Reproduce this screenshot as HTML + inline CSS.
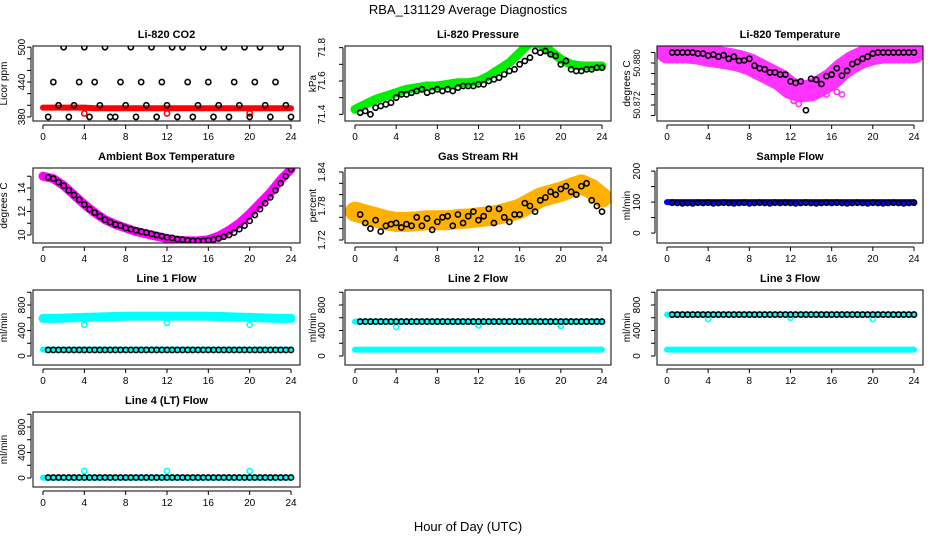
<!DOCTYPE html>
<html><head><meta charset="utf-8">
<style>
html,body{margin:0;padding:0;background:#fff;}
svg{display:block;font-family:"Liberation Sans",sans-serif;}
</style></head>
<body>
<svg id="chart" width="936" height="540" viewBox="0 0 936 540" xmlns="http://www.w3.org/2000/svg">
<rect width="936" height="540" fill="#fff"/>
<text x="468" y="14" text-anchor="middle" font-size="13">RBA_131129  Average Diagnostics</text>
<text x="468" y="531" text-anchor="middle" font-size="13">Hour of Day (UTC)</text>
</svg>
<script>
const HX = [0,1,2,3,4,5,6,7,8,9,10,11,12,13,14,15,16,17,18,19,20,21,22,23,24];
const BX = [0.5,1,1.5,2,2.5,3,3.5,4,4.5,5,5.5,6,6.5,7,7.5,8,8.5,9,9.5,10,10.5,11,11.5,12,12.5,13,13.5,14,14.5,15,15.5,16,16.5,17,17.5,18,18.5,19,19.5,20,20.5,21,21.5,22,22.5,23,23.5,24];
const OX = [4,12,20];
const xTicks = [0,4,8,12,16,20,24];

const co2Band = [396,396,396,396,396,395,395,395,395,395,395,395,395,395,395,395,395,395,395,395,395,395,395,395,395];
const co2Black = [380,440,400,500,380,400,440,500,380,440,400,500,380,380,440,400,500,380,440,400,500,380,440,400,500,380,500,440,380,400,500,440,380,400,500,380,440,400,500,380,440,500,400,380,440,500,400,380];
const co2Out = [386,386,386];

const presBand = [71.43,71.46,71.49,71.51,71.53,71.55,71.56,71.57,71.57,71.58,71.59,71.59,71.60,71.63,71.67,71.71,71.77,71.83,71.82,71.78,71.73,71.70,71.69,71.69,71.69];
const presBlack = [71.41,71.42,71.40,71.44,71.45,71.46,71.47,71.50,71.52,71.52,71.53,71.54,71.55,71.53,71.54,71.55,71.54,71.55,71.54,71.56,71.57,71.57,71.57,71.58,71.58,71.60,71.61,71.62,71.64,71.66,71.67,71.70,71.72,71.74,71.78,71.77,71.78,71.76,71.75,71.70,71.72,71.67,71.66,71.66,71.67,71.67,71.68,71.68];

const tempBand = [50.882,50.882,50.882,50.8818,50.8814,50.8811,50.8808,50.8804,50.8798,50.8788,50.8778,50.8768,50.8752,50.8746,50.8748,50.8758,50.8770,50.8788,50.8802,50.8811,50.8817,50.882,50.882,50.882,50.882];
const tempBlack = [50.882,50.882,50.882,50.882,50.882,50.8818,50.8818,50.8814,50.8816,50.8812,50.8815,50.8808,50.8812,50.8804,50.8805,50.8808,50.8795,50.879,50.8788,50.8782,50.8782,50.8778,50.8778,50.8765,50.8762,50.8765,50.871,50.877,50.8768,50.876,50.8775,50.8778,50.879,50.8776,50.8785,50.8798,50.8802,50.8808,50.8812,50.8818,50.882,50.882,50.882,50.882,50.882,50.882,50.882,50.882];
const tempScatX = [7.5,8.5,9.5,10.2,11,11.5,12.3,12.8,13.2,14,15.5,16.5,17];
const tempScat = [50.8785,50.8776,50.8768,50.8760,50.8752,50.8758,50.8728,50.8722,50.8738,50.8735,50.8740,50.8745,50.8740];

const ambBand = [15.0,14.8,14.2,13.4,12.6,11.9,11.3,10.9,10.6,10.3,10.1,9.9,9.7,9.55,9.5,9.5,9.6,9.9,10.4,11.0,11.8,12.7,13.6,14.7,15.6];
const ambBlack = [14.9,14.8,14.5,14.2,13.8,13.4,13.0,12.6,12.2,11.9,11.6,11.3,11.1,10.9,10.8,10.6,10.5,10.4,10.3,10.2,10.1,10.0,9.9,9.8,9.75,9.65,9.6,9.55,9.5,9.5,9.5,9.55,9.6,9.7,9.85,10.0,10.2,10.5,10.8,11.2,11.7,12.2,12.7,13.2,13.8,14.4,15.0,15.6];

const rhBand = [1.77,1.765,1.76,1.755,1.752,1.752,1.753,1.755,1.755,1.755,1.757,1.758,1.76,1.762,1.765,1.77,1.775,1.785,1.795,1.80,1.805,1.812,1.818,1.81,1.795];
const rhBlack = [1.765,1.75,1.74,1.755,1.735,1.745,1.748,1.75,1.742,1.748,1.745,1.76,1.745,1.758,1.738,1.752,1.76,1.762,1.745,1.765,1.75,1.762,1.77,1.755,1.762,1.775,1.75,1.775,1.76,1.752,1.765,1.765,1.785,1.78,1.77,1.79,1.795,1.805,1.80,1.81,1.815,1.805,1.80,1.815,1.82,1.79,1.78,1.77];

const sampleBand = [100,100,100,100,100,100,100,100,100,100,100,100,100,100,100,100,100,100,100,100,100,100,100,100,100];
const sampleBlack = [98,97,96,97,96,98,97,98,96,97,98,97,96,97,98,96,97,98,97,96,98,97,98,97,96,97,98,97,96,97,98,97,98,97,96,97,98,97,96,98,97,96,97,98,97,96,97,98];

const l1High = [590,590,595,600,605,610,615,620,622,625,625,625,625,625,625,625,622,620,615,610,605,600,595,590,590];
const l1Low = [100,100,100,100,100,100,100,100,100,100,100,100,100,100,100,100,100,100,100,100,100,100,100,100,100];
const l1Black = [95,95,95,95,95,95,95,95,95,95,95,95,95,95,95,95,95,95,95,95,95,95,95,95,95,95,95,95,95,95,95,95,95,95,95,95,95,95,95,95,95,95,95,95,95,95,95,95];
const l1Out = [490,520,490];

const l2High = [540,540,540,540,540,540,540,540,540,540,540,540,540,540,540,540,540,540,540,540,540,540,540,540,540];
const l2Low = [100,100,100,100,100,100,100,100,100,100,100,100,100,100,100,100,100,100,100,100,100,100,100,100,100];
const l2Black = [540,540,540,540,540,540,540,540,540,540,540,540,540,540,540,540,540,540,540,540,540,540,540,540,540,540,540,540,540,540,540,540,540,540,540,540,540,540,540,540,540,540,540,540,540,540,540,540];
const l2Out = [455,480,470];

const l3High = [650,650,650,650,650,650,650,650,650,650,650,650,650,650,650,650,650,650,650,650,650,650,650,650,650];
const l3Low = [100,100,100,100,100,100,100,100,100,100,100,100,100,100,100,100,100,100,100,100,100,100,100,100,100];
const l3Black = [650,650,650,650,650,650,650,650,650,650,650,650,650,650,650,650,650,650,650,650,650,650,650,650,650,650,650,650,650,650,650,650,650,650,650,650,650,650,650,650,650,650,650,650,650,650,650,650];
const l3Out = [580,600,580];

const l4Band = [5,5,5,5,5,5,5,5,5,5,5,5,5,5,5,5,5,5,5,5,5,5,5,5,5];
const l4Black = [8,8,8,8,8,8,8,8,8,8,8,8,8,8,8,8,8,8,8,8,8,8,8,8,8,8,8,8,8,8,8,8,8,8,8,8,8,8,8,8,8,8,8,8,8,8,8,8];
const l4Out = [110,110,110];

const NS = "http://www.w3.org/2000/svg";
const svg = document.getElementById('chart');
const COLS = [{x0:43,x24:291,lab:8,tit:26},{x0:355,x24:602,lab:20,tit:29},{x0:667,x24:914,lab:17,tit:27}];
function mk(tag, attrs, parent){ const e=document.createElementNS(NS,tag); for(const k in attrs) e.setAttribute(k,attrs[k]); (parent||svg).appendChild(e); return e; }

function panel(p){
  const c = COLS[p.col];
  const top = 46 + p.row*122, bot = 121 + p.row*122;
  const L = c.x0 - 10, R = c.x24 + 9;
  const xs = h => c.x0 + (c.x24 - c.x0) * h / 24;
  const ys = v => bot - (v - p.dom[0]) / (p.dom[1] - p.dom[0]) * (bot - top);
  const g = mk('g', {});
  
  
  const cid = 'clip-' + p.name;
  const cp = mk('clipPath', {id: cid}, g);
  mk('rect', {x: L, y: top, width: R - L, height: bot - top}, cp);
  const plot = mk('g', {'clip-path': 'url(#' + cid + ')'}, g);
  
  
  p.layers.forEach(ly => {
    if (ly.type === 'band') {
      const pts = ly.x.map((h, i) => xs(h).toFixed(1) + ',' + ys(ly.y[i]).toFixed(1)).join(' ');
      const pl = mk('polyline', {points: pts, fill: 'none', stroke: ly.color, 'stroke-width': ly.w, 'stroke-linecap': 'round', 'stroke-linejoin': 'round'}, plot);
      
      
    } else {
      ly.x.forEach((h, i) => {
        const d = mk('circle', {cx: xs(h), cy: ys(ly.y[i]), r: ly.r || 2.6, fill: 'none', stroke: ly.color, 'stroke-width': ly.sw || 1.6}, plot);
        
        
      });
    }
  });
  const box = mk('rect', {x: L, y: top, width: R - L, height: bot - top, fill: 'none', stroke: '#000', 'stroke-width': 1}, g);
  
  
  const xa = mk('g', {}, g);
  
  
  const ay = bot + 4;
  mk('line', {x1: xs(0), x2: xs(24), y1: ay, y2: ay, stroke: '#000'}, xa);
  xTicks.forEach(t => {
    mk('line', {x1: xs(t), x2: xs(t), y1: ay, y2: ay + 4, stroke: '#000'}, xa);
    const tx = mk('text', {x: xs(t), y: ay + 15, 'text-anchor': 'middle', 'font-size': 10}, xa);
    tx.textContent = t;
    
    
  });
  const ya = mk('g', {}, g);
  
  
  const axx = L - 2;
  mk('line', {x1: axx, x2: axx, y1: ys(p.ticks[0]), y2: ys(p.ticks[p.ticks.length - 1]), stroke: '#000'}, ya);
  p.ticks.forEach(t => mk('line', {x1: axx - 4, x2: axx, y1: ys(t), y2: ys(t), stroke: '#000'}, ya));
  p.labels.forEach(t => {
    const lx = L - c.lab, lyy = ys(t);
    const tx = mk('text', {x: lx, y: lyy, 'text-anchor': 'middle', 'font-size': p.lfs || 10, transform: 'rotate(-90 ' + lx + ' ' + lyy + ')'}, ya);
    tx.textContent = t;
    
    
  });
  const yt = mk('text', {x: L - c.tit, y: (top + bot) / 2, 'text-anchor': 'middle', 'font-size': 10, transform: 'rotate(-90 ' + (L - c.tit) + ' ' + ((top + bot) / 2) + ')'}, g);
  yt.textContent = p.ylab;
  
  
  const tt = mk('text', {x: (L + R) / 2, y: top - 8, 'text-anchor': 'middle', 'font-size': 11, 'font-weight': 'bold'}, g);
  tt.textContent = p.title;
  
  
}

const BLACK = '#000', CYAN = '#00ffff';
panel({name:'co2', col:0, row:0, title:'Li-820 CO2', ylab:'Licor ppm', dom:[373,502], ticks:[380,400,420,440,460,480,500], labels:[380,440,500],
  layers:[{type:'band', name:'co2-band', x:HX, y:co2Band, color:'#ff0000', w:6},
          {type:'pts', name:'co2-outlier', x:OX, y:co2Out, color:'#ff0000'},
          {type:'pts', name:'co2-point', x:BX, y:co2Black, color:BLACK}]});
panel({name:'pressure', col:1, row:0, title:'Li-820 Pressure', ylab:'kPa', dom:[71.36,71.81], ticks:[71.4,71.5,71.6,71.7,71.8], labels:[71.4,71.6,71.8],
  layers:[{type:'band', name:'pressure-band', x:HX, y:presBand, color:'#00ee00', w:9},
          {type:'pts', name:'pressure-point', x:BX, y:presBlack, color:BLACK}]});
panel({name:'li820-temp', col:2, row:0, title:'Li-820 Temperature', ylab:'degrees C', lfs:9, dom:[50.86895,50.88324], ticks:[50.870,50.872,50.874,50.876,50.878,50.880,50.882], labels:['50.872','50.880'],
  layers:[{type:'band', name:'temp-band', x:HX, y:tempBand, color:'#ff33ff', w:22},
          {type:'pts', name:'temp-scatter', x:tempScatX, y:tempScat, color:'#ff33ff'},
          {type:'pts', name:'temp-point', x:BX, y:tempBlack, color:BLACK}]});
panel({name:'ambient-temp', col:0, row:1, title:'Ambient Box Temperature', ylab:'degrees C', dom:[9.32,15.7], ticks:[10,11,12,13,14,15], labels:[10,12,14],
  layers:[{type:'band', name:'ambient-band', x:HX, y:ambBand, color:'#ff00ff', w:9},
          {type:'pts', name:'ambient-point', x:BX, y:ambBlack, color:BLACK}]});
panel({name:'gas-rh', col:1, row:1, title:'Gas Stream RH', ylab:'percent', dom:[1.7147,1.847], ticks:[1.72,1.74,1.76,1.78,1.80,1.82,1.84], labels:['1.72','1.78','1.84'],
  layers:[{type:'band', name:'rh-band', x:HX, y:rhBand, color:'#ffb000', w:20},
          {type:'pts', name:'rh-point', x:BX, y:rhBlack, color:BLACK}]});
panel({name:'sample-flow', col:2, row:1, title:'Sample Flow', ylab:'ml/min', dom:[-32,210], ticks:[0,50,100,150,200], labels:[0,100,200],
  layers:[{type:'band', name:'sample-band', x:HX, y:sampleBand, color:'#0000ff', w:6},
          {type:'pts', name:'sample-point', x:BX, y:sampleBlack, color:BLACK}]});
panel({name:'line1-flow', col:0, row:2, title:'Line 1 Flow', ylab:'ml/min', dom:[-141,1035], ticks:[0,200,400,600,800,1000], labels:[0,400,800],
  layers:[{type:'band', name:'line1-high-band', x:HX, y:l1High, color:CYAN, w:9},
          {type:'band', name:'line1-low-band', x:HX, y:l1Low, color:CYAN, w:6},
          {type:'pts', name:'line1-outlier', x:OX, y:l1Out, color:CYAN},
          {type:'pts', name:'line1-point', x:BX, y:l1Black, color:BLACK}]});
panel({name:'line2-flow', col:1, row:2, title:'Line 2 Flow', ylab:'ml/min', dom:[-141,1035], ticks:[0,200,400,600,800,1000], labels:[0,400,800],
  layers:[{type:'band', name:'line2-high-band', x:HX, y:l2High, color:CYAN, w:6},
          {type:'band', name:'line2-low-band', x:HX, y:l2Low, color:CYAN, w:6},
          {type:'pts', name:'line2-outlier', x:OX, y:l2Out, color:CYAN},
          {type:'pts', name:'line2-point', x:BX, y:l2Black, color:BLACK}]});
panel({name:'line3-flow', col:2, row:2, title:'Line 3 Flow', ylab:'ml/min', dom:[-141,1035], ticks:[0,200,400,600,800,1000], labels:[0,400,800],
  layers:[{type:'band', name:'line3-high-band', x:HX, y:l3High, color:CYAN, w:6},
          {type:'band', name:'line3-low-band', x:HX, y:l3Low, color:CYAN, w:6},
          {type:'pts', name:'line3-outlier', x:OX, y:l3Out, color:CYAN},
          {type:'pts', name:'line3-point', x:BX, y:l3Black, color:BLACK}]});
panel({name:'line4-flow', col:0, row:3, title:'Line 4 (LT) Flow', ylab:'ml/min', dom:[-141,1035], ticks:[0,200,400,600,800,1000], labels:[0,400,800],
  layers:[{type:'band', name:'line4-band', x:HX, y:l4Band, color:CYAN, w:6},
          {type:'pts', name:'line4-outlier', x:OX, y:l4Out, color:CYAN},
          {type:'pts', name:'line4-point', x:BX, y:l4Black, color:BLACK}]});
</script>
</body></html>
